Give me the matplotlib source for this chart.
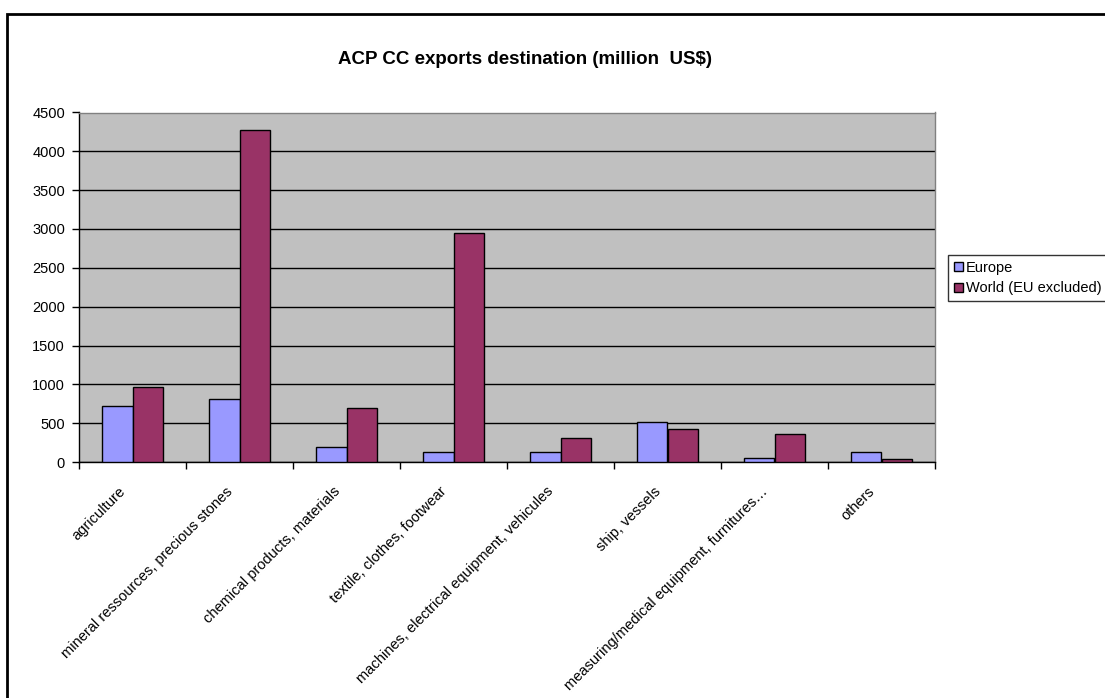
import matplotlib
matplotlib.use("Agg")
import matplotlib.pyplot as plt
import matplotlib.transforms as mtransforms
from matplotlib.patches import Rectangle
import numpy as np

plt.rcParams["font.family"] = ["Liberation Sans", "DejaVu Sans"]

categories = [
	"agriculture",
	"mineral ressources, precious stones",
	"chemical products, materials",
	"textile, clothes, footwear",
	"machines, electrical equipment, vehicules",
	"ship, vessels",
	"measuring/medical equipment, furnitures\u2026",
	"others",
]
europe = [720, 805, 190, 125, 125, 510, 50, 130]
world = [960, 4280, 700, 2950, 305, 430, 365, 40]
yticks = [0, 500, 1000, 1500, 2000, 2500, 3000, 3500, 4000, 4500]

W, H = 1105, 698
fig = plt.figure(figsize=(W / 100, H / 100), dpi=100)
fig.patch.set_facecolor("white")

# chart area border (runs off the right and bottom edges)
fig.add_artist(Rectangle((7 / W, -0.05), 1.2, 1 - 14 / H + 0.05, transform=fig.transFigure,
	fill=False, edgecolor="black", linewidth=2, clip_on=False))

ax = fig.add_axes([79 / W, 1 - 462 / H, (935 - 79) / W, (462 - 112.5) / H])
ax.set_facecolor("#C0C0C0")

x = np.arange(len(categories))
w = 1 / 3.5
ax.bar(x - w / 2, europe, w, color="#9999FF", edgecolor="black", linewidth=1, label="Europe", zorder=3)
ax.bar(x + w / 2, world, w, color="#993366", edgecolor="black", linewidth=1, label="World (EU excluded)", zorder=3)

ax.set_xlim(-0.5, len(categories) - 0.5)
ax.set_ylim(0, 4500)
ax.set_yticks(yticks)
ax.tick_params(axis="y", labelsize=10.5, length=5, width=1, pad=5, direction="out")
ax.yaxis.grid(True, color="black", linewidth=1, zorder=1)
ax.set_axisbelow(True)

ax.set_xticks(x)
ax.set_xticklabels(categories, rotation=45, ha="right", va="top", rotation_mode="anchor", fontsize=10.5)
ax.tick_params(axis="x", which="major", length=0, pad=16)
# nudge labels left, like Excel does
shift = mtransforms.ScaledTranslation(-10 / 72, 0, fig.dpi_scale_trans)
for lab in ax.get_xticklabels():
	lab.set_transform(lab.get_transform() + shift)
ax.set_xticks(np.arange(-0.5, len(categories)), minor=True)
ax.tick_params(axis="x", which="minor", length=5, width=1, direction="out")

for s in ["left", "bottom"]:
	ax.spines[s].set_color("black")
	ax.spines[s].set_linewidth(1)
for s in ["top", "right"]:
	ax.spines[s].set_color("#808080")
	ax.spines[s].set_linewidth(1)

fig.text(525 / W, 1 - 60 / H, "ACP CC exports destination (million  US$)", ha="center", va="center",
	fontsize=13.5, fontweight="bold")

leg = fig.legend(loc="upper left", bbox_to_anchor=(948 / W, 1 - 255 / H), bbox_transform=fig.transFigure,
	fontsize=10.5, frameon=True, fancybox=False, handlelength=0.6, handleheight=0.6, handletextpad=0.2,
	borderpad=0.4, labelspacing=0.45, borderaxespad=0)
leg.get_frame().set_edgecolor("black")
leg.get_frame().set_linewidth(1)

fig.savefig("out.png", dpi=100)
